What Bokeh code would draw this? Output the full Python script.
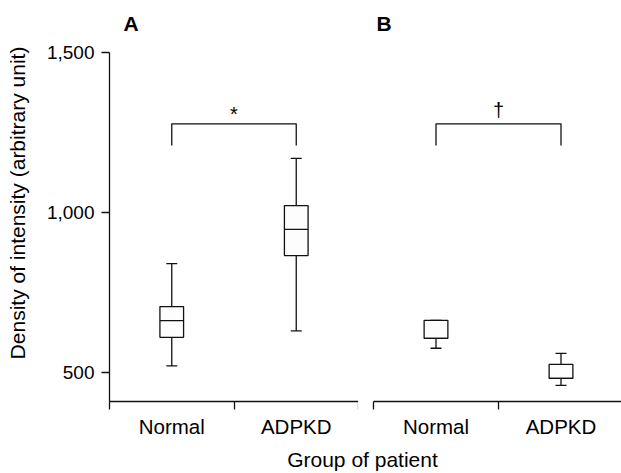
from bokeh.plotting import figure
from bokeh.layouts import row, column
from bokeh.models import Range1d, FixedTicker, NumeralTickFormatter, ColumnDataSource
from bokeh.core.properties import value
from bokeh.embed import file_html
from bokeh.resources import INLINE

# ---- data ----
groups = ["Normal", "ADPKD"]
panel_titles = ["A", "B"]
a_low = [522, 631]
a_q1 = [611, 866]
a_med = [663, 948]
a_q3 = [707, 1022]
a_high = [841, 1169]
b_low = [577, 461]
b_q1 = [608, 483]
b_med = [608, 483]
b_q3 = [664, 527]
b_high = [664, 561]
y_ticks = [500, 1000, 1500]
bracket_top = 1277
bracket_foot = 1209
marks = ["*", "\u2020"]
x_label = "Group of patient"
y_label = "Density of intensity (arbitrary unit)"

FONT = "Liberation Sans"
INK = "#111111"
LW = 1.3
Y0, Y1 = 411, 1500            # visible axis extent
AXIS_PX = 351                 # pixel length of the axis Y0..Y1
HEAD_PX = 48                  # extra frame room above Y1 for the panel letter
Y_TOP = Y1 + HEAD_PX * (Y1 - Y0) / AXIS_PX
BOX_W = 0.19
CAP_W = 0.088


def make_panel(title, low, q1, med, q3, high, mark, mark_offset, width,
               border_left, x_end, title_offset, with_y_axis):
    p = figure(width=width, height=440, x_range=Range1d(0, x_end),
               y_range=Range1d(Y0, Y_TOP), output_backend="svg",
               toolbar_location=None, tools="",
               min_border_left=border_left, min_border_right=0,
               min_border_top=4, min_border_bottom=37,
               y_axis_location="left" if with_y_axis else None)
    p.outline_line_color = None
    p.xgrid.visible = False
    p.ygrid.visible = False
    p.background_fill_color = "white"

    # panel letter above the axis top
    p.text(x=[0], y=[Y1], text=[title], x_offset=title_offset, y_offset=-29,
           text_baseline="alphabetic", text_align="left",
           text_font=value(FONT), text_font_size="21px",
           text_font_style="bold", text_color="#000000")

    xs = [i + 0.5 for i in range(len(groups))]
    src = ColumnDataSource(dict(
        x=xs, low=low, q1=q1, med=med, q3=q3, high=high,
        bl=[x - BOX_W / 2 for x in xs], br=[x + BOX_W / 2 for x in xs],
        cl=[x - CAP_W / 2 for x in xs], cr=[x + CAP_W / 2 for x in xs],
    ))
    kw = dict(line_color=INK, line_width=LW)
    p.segment(x0="x", y0="low", x1="x", y1="q1", source=src, **kw)
    p.segment(x0="x", y0="q3", x1="x", y1="high", source=src, **kw)
    p.segment(x0="cl", y0="low", x1="cr", y1="low", source=src, **kw)
    p.segment(x0="cl", y0="high", x1="cr", y1="high", source=src, **kw)
    p.vbar(x="x", width=BOX_W, bottom="q1", top="q3", source=src,
           fill_color="#fdfdfd", **kw)
    p.segment(x0="bl", y0="med", x1="br", y1="med", source=src, **kw)

    # significance bracket
    p.line(x=[xs[0], xs[0], xs[1], xs[1]],
           y=[bracket_foot, bracket_top, bracket_top, bracket_foot], **kw)
    p.text(x=[(xs[0] + xs[1]) / 2], y=[bracket_top], text=[mark],
           text_align="center", text_baseline="alphabetic",
           y_offset=mark_offset, text_font=value(FONT),
           text_font_size="20px", text_color="#000000")

    # x axis: boundary ticks (minor) and centred group labels (major)
    ax = p.xaxis[0]
    ax.ticker = FixedTicker(ticks=xs, minor_ticks=[0, 1, 2])
    ax.major_label_overrides = {x: g for x, g in zip(xs, groups)}
    ax.major_tick_out = 0
    ax.major_tick_in = 0
    ax.minor_tick_out = 8
    ax.minor_tick_in = 0
    ax.minor_tick_line_color = INK
    ax.minor_tick_line_width = LW
    ax.axis_line_color = INK
    ax.axis_line_width = LW
    ax.major_label_standoff = 5
    ax.major_label_text_font = FONT
    ax.major_label_text_font_size = "20.5px"
    ax.major_label_text_color = "#000000"

    if with_y_axis:
        ya = p.yaxis[0]
        ya.bounds = (Y0, Y1)
        ya.ticker = FixedTicker(ticks=y_ticks, minor_ticks=[])
        ya.formatter = NumeralTickFormatter(format="0,0")
        ya.major_tick_out = 8
        ya.major_tick_in = 0
        ya.major_tick_line_color = INK
        ya.major_tick_line_width = LW
        ya.axis_line_color = INK
        ya.axis_line_width = LW
        ya.major_label_standoff = 7
        ya.major_label_text_font = FONT
        ya.major_label_text_font_size = "19px"
        ya.major_label_text_color = "#000000"
        ya.axis_label = y_label
        ya.axis_label_text_font = FONT
        ya.axis_label_text_font_size = "21px"
        ya.axis_label_text_font_style = "normal"
        ya.axis_label_text_color = "#000000"
        ya.axis_label_standoff = 15
    return p


p1 = make_panel(panel_titles[0], a_low, a_q1, a_med, a_q3, a_high, marks[0], -10,
                358, 109, 2.0, 14, True)
p2 = make_panel(panel_titles[1], b_low, b_q1, b_med, b_q3, b_high, marks[1], -14,
                263, 15, 248 / 125, 3, False)

# shared x-axis title under both panels
p3 = figure(width=621, height=33, x_range=Range1d(0, 1), y_range=Range1d(0, 1),
            output_backend="svg", toolbar_location=None, tools="",
            min_border_left=109, min_border_right=6, min_border_top=0,
            min_border_bottom=0, y_axis_location=None)
p3.outline_line_color = None
p3.xgrid.visible = False
p3.ygrid.visible = False
xa = p3.xaxis[0]
xa.ticker = FixedTicker(ticks=[], minor_ticks=[])
xa.axis_line_color = None
xa.major_tick_out = 0
xa.major_tick_in = 0
xa.minor_tick_out = 0
xa.minor_tick_in = 0
xa.major_label_text_font_size = "1px"
xa.axis_label = x_label
xa.axis_label_standoff = 0
xa.axis_label_text_font = FONT
xa.axis_label_text_font_size = "21px"
xa.axis_label_text_font_style = "normal"
xa.axis_label_text_color = "#000000"

layout = column(row(p1, p2), p3)
open("out.html", "w").write(file_html(layout, INLINE))
